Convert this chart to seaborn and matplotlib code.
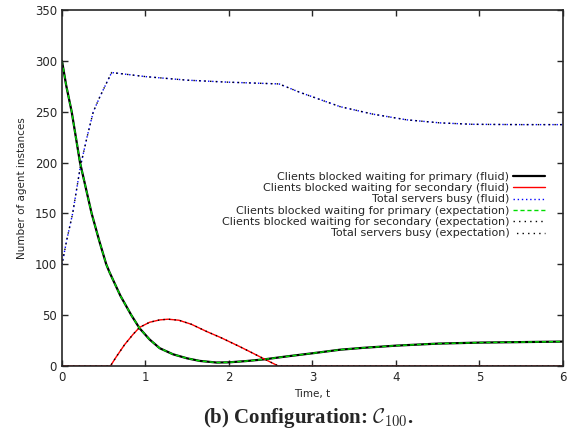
import matplotlib
matplotlib.use("Agg")
import matplotlib.pyplot as plt
import seaborn as sns

# ---- data ----
t_primary = [0, 0.05, 0.116, 0.216, 0.355, 0.45, 0.53, 0.57, 0.7, 0.83, 0.93,
             1.05, 1.17, 1.33, 1.5, 1.65, 1.85, 2.0, 2.2, 2.43, 2.7, 3.0, 3.33,
             3.6, 4.0, 4.5, 5.0, 5.5, 6.0]
primary = [300, 276, 250, 200, 150, 122, 100, 92, 69, 50, 37,
           26, 17.5, 11.5, 7.5, 5, 3.4, 3.6, 4.8, 6.6, 9.5, 12.5, 16,
           17.8, 20, 22, 23, 23.5, 24]

t_secondary = [0, 0.58, 0.65, 0.75, 0.85, 0.93, 1.05, 1.17, 1.27, 1.4, 1.55,
               1.73, 1.9, 2.13, 2.3, 2.43, 2.59, 3.0, 4.0, 5.0, 6.0]
secondary = [0, 0, 9, 21, 31, 38, 43, 45.3, 46, 45, 41,
             34, 28, 19, 12, 6.6, 0, 0, 0, 0, 0]

t_servers = [0, 0.06, 0.128, 0.22, 0.3, 0.375, 0.45, 0.52, 0.595, 1.0, 1.5,
             2.0, 2.6, 2.85, 3.33, 3.73, 4.13, 4.53, 4.92, 5.5, 6.0]
servers = [100, 125, 150, 196, 225, 250, 264, 276, 288.5, 284.5, 281,
           279, 277.3, 269, 255, 247.5, 242, 239, 237.6, 237.3, 237.3]

labels = ["Clients blocked waiting for primary (fluid)",
          "Clients blocked waiting for secondary (fluid)",
          "Total servers busy (fluid)",
          "Clients blocked waiting for primary (expectation)",
          "Clients blocked waiting for secondary (expectation)",
          "Total servers busy (expectation)"]

x_ticks = [0, 1, 2, 3, 4, 5, 6]
y_ticks = [0, 50, 100, 150, 200, 250, 300, 350]

sns.set_style("ticks")
plt.rcParams['font.family'] = ['DejaVu Sans']
plt.rcParams['mathtext.fontset'] = 'cm'

fig = plt.figure(figsize=(5.82, 4.38), dpi=100)
ax = fig.add_axes([0.1065, 0.1644, 0.8608, 0.8128])

sns.lineplot(x=t_primary, y=primary, ax=ax, color="black", lw=1.6, label=labels[0])
sns.lineplot(x=t_secondary, y=secondary, ax=ax, color="red", lw=1.0, label=labels[1])
sns.lineplot(x=t_servers, y=servers, ax=ax, color="blue", lw=1.0, ls=(0, (1, 2)), label=labels[2])
sns.lineplot(x=t_primary, y=primary, ax=ax, color="#00dd00", lw=1.0, ls=(0, (3, 2)), label=labels[3])
sns.lineplot(x=t_secondary, y=secondary, ax=ax, color="black", lw=1.0, ls=(0, (1, 3)), label=labels[4])
sns.lineplot(x=t_servers, y=servers, ax=ax, color="black", lw=1.0, ls=(1.5, (1, 3)), label=labels[5])

ax.set_xlim(0, 6)
ax.set_ylim(0, 350)
ax.set_xticks(x_ticks)
ax.set_yticks(y_ticks)
ax.tick_params(direction="in", top=True, right=True, labelsize=8.5, length=4, width=1)
for s in ax.spines.values():
    s.set_linewidth(1.2)
    s.set_visible(True)
ax.set_xlabel("Time, t", fontsize=7.5, labelpad=4)
ax.set_ylabel("Number of agent instances", fontsize=7.5, labelpad=6)

leg = ax.legend(loc="center right", bbox_to_anchor=(0.975, 0.452), frameon=False,
                markerfirst=False, fontsize=8, handlelength=2.9, labelspacing=0.12,
                handletextpad=0.3, borderpad=0)
for t in leg.get_texts():
    t.set_ha("right")
leg._legend_box.align = "right"

fig.text(0.53, 0.045, r"(b) Configuration: $\mathcal{C}_{100}$.", ha="center", va="center",
         fontsize=15, fontweight="bold", family="Liberation Serif")

fig.savefig("out.png", dpi=100)
